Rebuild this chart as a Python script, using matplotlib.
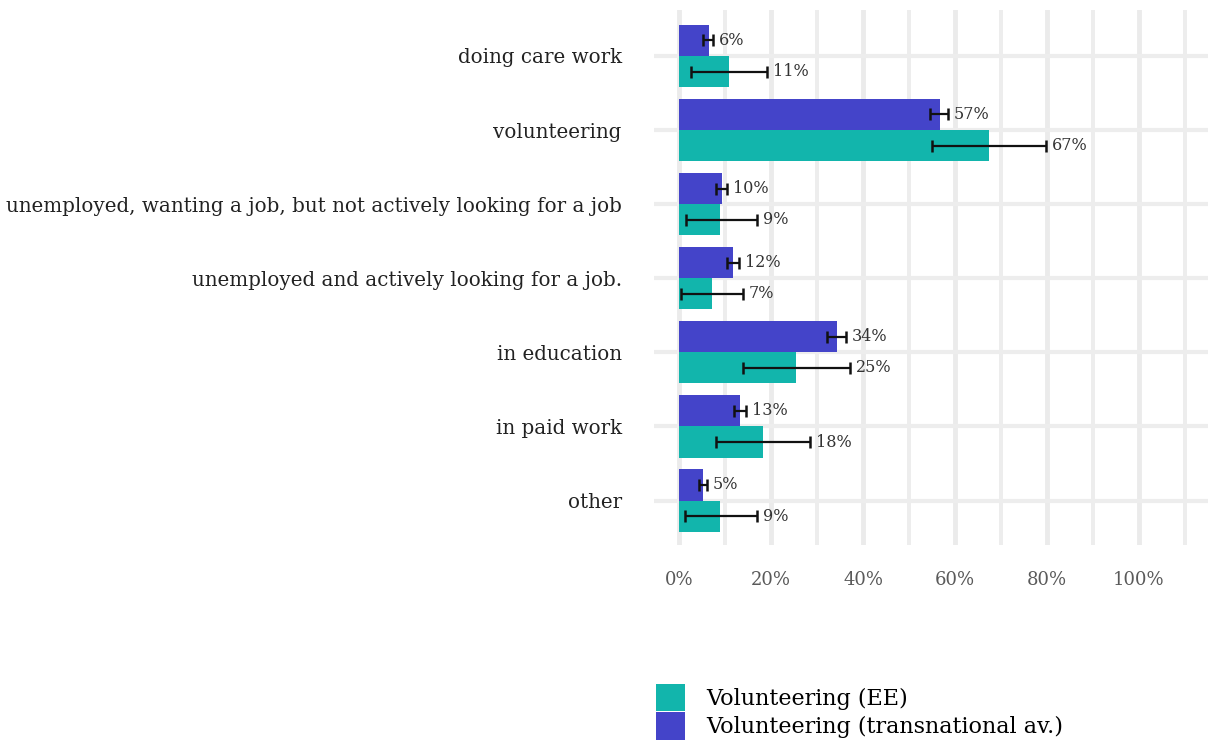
import numpy as np
import matplotlib
matplotlib.use('Agg')
import matplotlib.pyplot as plt
from matplotlib.patches import Patch
from matplotlib.ticker import MultipleLocator, FuncFormatter

# Data (top to bottom)
categories = ['doing care work', 'volunteering',
              'unemployed, wanting a job, but not actively looking for a job',
              'unemployed and actively looking for a job.',
              'in education', 'in paid work', 'other']

ee_vals = [10.9, 67.4, 8.9, 7.2, 25.4, 18.3, 8.9]
ee_lo = [2.6, 55.0, 1.5, 0.4, 13.9, 8.0, 1.3]
ee_hi = [19.1, 79.8, 17.0, 13.9, 37.2, 28.5, 17.0]
ee_labels = ['11%', '67%', '9%', '7%', '25%', '18%', '9%']

tr_vals = [6.5, 56.7, 9.3, 11.7, 34.3, 13.3, 5.2]
tr_lo = [5.2, 54.6, 8.0, 10.4, 32.2, 12.0, 4.3]
tr_hi = [7.4, 58.5, 10.4, 13.0, 36.3, 14.6, 6.1]
tr_labels = ['6%', '57%', '10%', '12%', '34%', '13%', '5%']

ee_color = '#12B5AC'
tr_color = '#4444C9'
font = 'DejaVu Serif'

fig = plt.figure(figsize=(12.08, 7.45), dpi=100)
ax = fig.add_axes([653.7 / 1208, 200 / 745, 556.6 / 1208, 535 / 745])

y = np.arange(len(categories))
h = 0.42

ax.barh(y - h / 2, tr_vals, height=h, color=tr_color, zorder=2)
ax.barh(y + h / 2, ee_vals, height=h, color=ee_color, zorder=2)


def draw_err(ypos, vals, lo, hi, labels):
    vals = np.array(vals)
    xerr = [vals - np.array(lo), np.array(hi) - vals]
    ax.errorbar(vals, ypos, xerr=xerr, fmt='none', ecolor='#111111',
                elinewidth=1.6, capsize=4.5, capthick=1.8, zorder=3)
    for yy, x, lab in zip(ypos, hi, labels):
        ax.text(x + 1.3, yy, lab, va='center', ha='left', fontsize=11.5,
                family=font, color='#333333', zorder=4)


draw_err(y - h / 2, tr_vals, tr_lo, tr_hi, tr_labels)
draw_err(y + h / 2, ee_vals, ee_lo, ee_hi, ee_labels)

ax.set_xlim(-5.5, 115.5)
ax.set_ylim(len(categories) - 0.4, -0.62)

ax.xaxis.set_minor_locator(MultipleLocator(10))
ax.set_xticks([0, 20, 40, 60, 80, 100])
ax.xaxis.set_major_formatter(FuncFormatter(lambda v, _: f'{v:.0f}%'))
ax.grid(which='major', axis='x', color='#EBEBEB', linewidth=3.5, zorder=0)
ax.grid(which='minor', axis='x', color='#EDEDED', linewidth=2.8, zorder=0)
ax.set_yticks(y)
ax.set_yticklabels(categories)
ax.grid(which='major', axis='y', color='#EDEDED', linewidth=3, zorder=0)

for s in ax.spines.values():
    s.set_visible(False)
ax.tick_params(which='both', length=0)
ax.tick_params(axis='x', pad=19, labelsize=13, labelcolor='#5a5a5a')
ax.tick_params(axis='y', pad=23, labelsize=14.3, labelcolor='#222222')
for t in ax.get_xticklabels() + ax.get_yticklabels():
    t.set_family(font)

handles = [Patch(facecolor=ee_color), Patch(facecolor=tr_color)]
fig.legend(handles, ['Volunteering (EE)', 'Volunteering (transnational av.)'],
           loc='upper left', bbox_to_anchor=(654 / 1208, 1 - 682 / 745),
           frameon=False, prop={'family': font, 'size': 16},
           handlelength=1.3, handleheight=1.5, handletextpad=0.95,
           labelspacing=0.05, borderaxespad=0, borderpad=0.1)

fig.savefig('out.png', dpi=100)
